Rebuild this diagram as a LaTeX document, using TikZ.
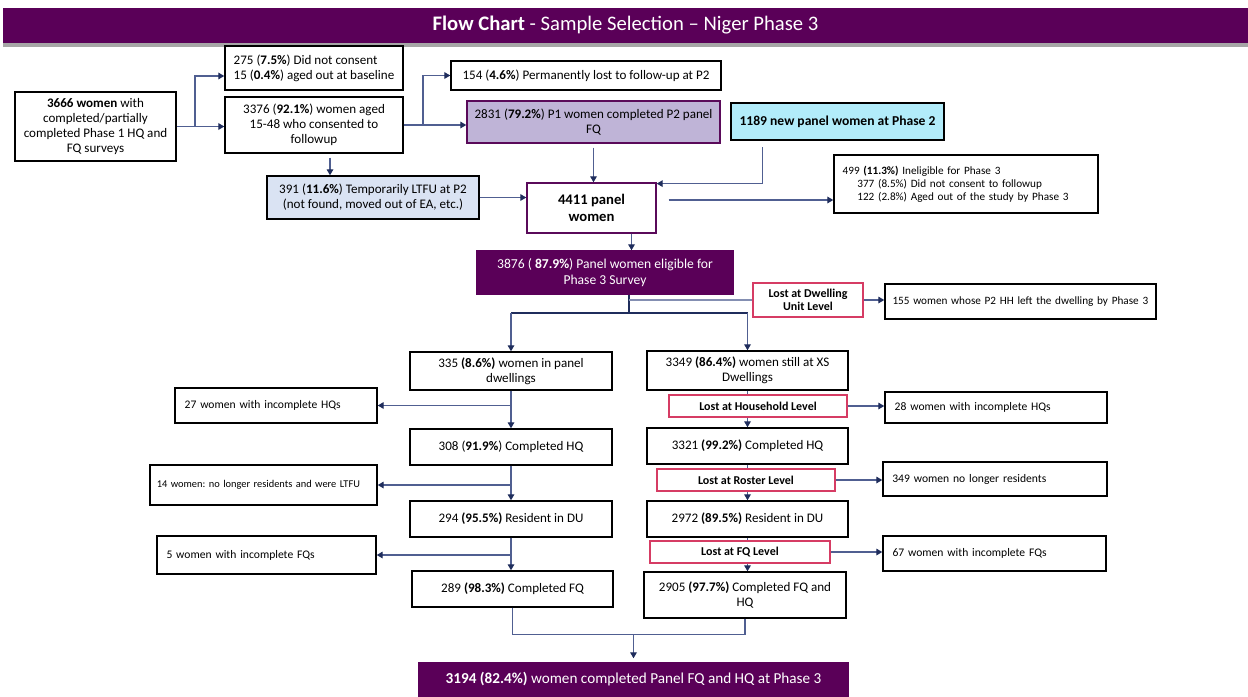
\documentclass[tikz,border=0pt]{standalone}
\usepackage{fontspec}
\setmainfont{Carlito}
\frenchspacing
\usetikzlibrary{arrows.meta,calc}
\definecolor{plum}{RGB}{90,0,88}
\definecolor{navy}{RGB}{31,45,92}
\definecolor{linec}{RGB}{80,95,145}
\definecolor{lavf}{RGB}{191,180,215}
\definecolor{lavd}{RGB}{90,10,90}
\definecolor{cyanf}{RGB}{178,236,250}
\definecolor{bluef}{RGB}{218,227,243}
\definecolor{crim}{RGB}{214,60,100}
\newcommand\fntmain{\fontsize{9.8}{11.2}\selectfont}
\newcommand\fntside{\fontsize{8.7}{10}\selectfont}
\newcommand\fntsmall{\fontsize{8.4}{9.8}\selectfont}
\newcommand\fntred{\fontsize{9}{10.2}\selectfont\bfseries}
\begin{document}
\begin{tikzpicture}[x=0.75pt,y=-0.75pt,
  sz/.style 2 args={minimum width=#1*0.75pt, minimum height=#2*0.75pt},
  box/.style={draw=black, line width=1.1pt, fill=white, inner sep=0pt, align=center, font=\fntmain},
  side/.style={box, font=\fntside, align=left},
  redbox/.style={draw=crim, line width=1.1pt, fill=white, inner sep=0pt, align=center, font=\fntred},
  line/.style={draw=linec, line width=0.9pt},
  arr/.style={line, -{Triangle[length=4.5pt,width=5pt,fill=navy,color=navy]}}
]
\useasboundingbox (0,0) rectangle (1248,696);
% title
\fill[black!35] (3,43) rectangle (1248,47);
\node[fill=plum, sz={1245}{35}, inner sep=0pt, text=white, font=\fontsize{15.5}{18}\selectfont] (title) at (625.5,25.5) {\textbf{Flow Chart} - Sample Selection -- Niger Phase 3};

% top part
\node[box, sz={161}{69}] (A) at (95.5,126.5) {\textbf{3666 women} with\\completed/partially\\completed Phase 1 HQ and\\FQ surveys};
\node[box, sz={178}{44}, align=left] (B) at (314,68) {275 (\textbf{7.5\%}) Did not consent\\15 (\textbf{0.4\%}) aged out at baseline};
\node[box, sz={178}{56}] (C) at (314,125) {3376 (\textbf{92.1\%}) women aged\\15-48 who consented to\\followup};
\node[box, sz={212}{43}, fill=bluef] (D) at (373,197.5) {391 (\textbf{11.6\%}) Temporarily LTFU at P2\\(not found, moved out of EA, etc.)};
\node[box, sz={270}{29}] (E) at (586,75.5) {154 (\textbf{4.6\%}) Permanently lost to follow-up at P2};
\node[box, sz={253}{42}, fill=lavf, draw=lavd] (F) at (593.5,122) {2831 (\textbf{79.2\%}) P1 women completed P2 panel\\FQ};
\node[box, sz={213}{37}, fill=cyanf, font=\fontsize{10.2}{12}\selectfont\bfseries] (G) at (837.5,121.5) {1189 new panel women at Phase 2};
\node[box, sz={129}{50}, draw=lavd, font=\fontsize{11}{13}\selectfont\bfseries] (H) at (591.5,208) {4411 panel\\women};
\node[box, sz={264}{58}, align=left, text width=185pt, font=\fntsmall] (I) at (966,184) {499 \textbf{(11.3\%)} Ineligible for Phase 3\\\hspace*{11pt}377 (8.5\%) Did not consent to followup\\\hspace*{11pt}122 (2.8\%) Aged out of the study by Phase 3};
\node[box, sz={256}{43}, fill=plum, draw=plum, text=white, font=\fontsize{10.2}{12.5}\selectfont] (J) at (605,272.5) {3876 ( \textbf{87.9\%}) Panel women eligible for\\Phase 3 Survey};
\node[redbox, sz={110}{34}] (Rd) at (808,300) {Lost at Dwelling\\Unit Level};
\node[side, sz={271}{35}, font=\fntsmall, text width=192pt] (K) at (1020.5,301.5) {155 women whose P2 HH left the dwelling by Phase 3};

% left column
\node[box, sz={202}{38}] (L1) at (511,371) {335 \textbf{(8.6\%)} women in panel\\dwellings};
\node[side, sz={202}{35}, text width=137pt] (S1) at (276,405.5) {27 women with incomplete HQs};
\node[box, sz={202}{36}] (L2) at (511,447) {308 (\textbf{91.9\%}) Completed HQ};
\node[side, sz={227}{40}, text width=160pt, font=\fontsize{7.8}{9}\selectfont] (S2) at (263.5,485) {14 women: no longer residents and were LTFU};
\node[box, sz={202}{36}] (L3) at (511,519) {294 \textbf{(95.5\%)} Resident in DU};
\node[side, sz={219}{38}, text width=150pt] (S3) at (266.5,555) {5 women with incomplete FQs};
\node[box, sz={201}{36}] (L4) at (512.5,589) {289 \textbf{(98.3\%)} Completed FQ};

% right column
\node[box, sz={201}{39}] (R1) at (747.5,370.5) {3349 \textbf{(86.4\%)} women still at XS\\Dwellings};
\node[redbox, sz={178}{22}] (Rh) at (758,406) {Lost at Household Level};
\node[side, sz={222}{31}, text width=152pt] (T1) at (996,407.5) {28 women with incomplete HQs};
\node[box, sz={201}{36}] (R2) at (747.5,446) {3321 \textbf{(99.2\%)} Completed HQ};
\node[redbox, sz={178}{22}] (Rr) at (746,480) {Lost at Roster Level};
\node[side, sz={224}{34}, text width=154pt] (T2) at (995,479) {349 women no longer residents};
\node[box, sz={201}{36}] (R3) at (747.5,519) {2972 \textbf{(89.5\%)} Resident in DU};
\node[redbox, sz={180}{22}] (Rf) at (740,552) {Lost at FQ Level};
\node[side, sz={223}{35}, text width=153pt] (T3) at (994.5,553.5) {67 women with incomplete FQs};
\node[box, sz={202}{46}] (R4) at (745,595) {2905 \textbf{(97.7\%)} Completed FQ and\\HQ};

\node[box, sz={429}{33}, fill=plum, draw=plum, text=white, font=\fontsize{11.4}{13.5}\selectfont] (Z) at (633.5,679.5) {\textbf{3194 (82.4\%)} women completed Panel FQ and HQ at Phase 3};

% connectors top
\coordinate (jA) at (195,126.5);
\draw[arr] (A.east) -- (A.east -| C.west);
\draw[arr] (jA) |- ([yshift=-6pt]B.west);
\coordinate (jC) at (423,125);
\draw[arr] (C.east) -- (C.east -| F.west);
\draw[arr] (jC) |- (E.west);
\draw[arr] ([xshift=12pt,yshift=-3pt]C.south) -- ([xshift=12pt]C.south |- D.north);
\draw[arr] (D.east) -- (D.east -| H.west);
\draw[arr] ([yshift=-3pt]F.south) -- (F.south |- H.north);
\draw[arr] ([yshift=-5pt]$(G.south west)!0.15!(G.south east)$) |- ([yshift=-1pt]H.north east);
\draw[arr] ([yshift=6pt,xshift=9pt]H.east) -- ([yshift=6pt]H.east -| I.west);
\draw[arr] ([xshift=30pt]H.south) -- ([xshift=30pt]H.south |- J.north);

% split
\coordinate (jJ) at ([xshift=18pt]J.south);
\coordinate (split) at ([yshift=-13.5pt]jJ);
\draw[line, draw=navy, line width=1.3pt] (jJ) -- (split);
\draw[line, draw=navy, line width=1.3pt] (split -| L1.north) -- (split -| R1.north);
\draw[arr] (split -| L1.north) -- (L1.north);
\draw[arr] (split -| R1.north) -- (R1.north);
\draw[line, draw=linec!70] (jJ |- Rd.west) -- (Rd.west);
\draw[arr] (Rd.east) -- (Rd.east -| K.west);

% left column connectors
\draw[arr] (L1.south) -- (L2.north);
\draw[arr] (L1.south |- S1.east) -- (S1.east);
\draw[arr] (L2.south) -- (L2.south |- L3.north);
\draw[arr] (L2.south |- S2.east) -- (S2.east);
\draw[arr] (L3.south) -- (L3.south |- L4.north);
\draw[arr] (L3.south |- S3.east) -- (S3.east);
\coordinate (hb) at ($(L4.south)+(0,27)$);
\draw[line] (L4.south) -- (hb) -| (R4.south);
\draw[arr] (Z.north |- hb) -- ([yshift=3pt]Z.north);

% right column connectors
\draw[line] (R1.south) -- (R1.south |- Rh.north);
\draw[arr] (R1.south |- Rh.south) -- (R1.south |- R2.north);
\draw[arr] (Rh.east) -- (Rh.east -| T1.west);
\draw[line] (R2.south) -- (R2.south |- Rr.north);
\draw[arr] (R2.south |- Rr.south) -- (R2.south |- R3.north);
\draw[arr] (Rr.east) -- (Rr.east -| T2.west);
\draw[line] (R3.south) -- (R3.south |- Rf.north);
\draw[arr] (R3.south |- Rf.south) -- (R3.south |- R4.north);
\draw[arr] (Rf.east) -- (Rf.east -| T3.west);
\end{tikzpicture}
\end{document}
